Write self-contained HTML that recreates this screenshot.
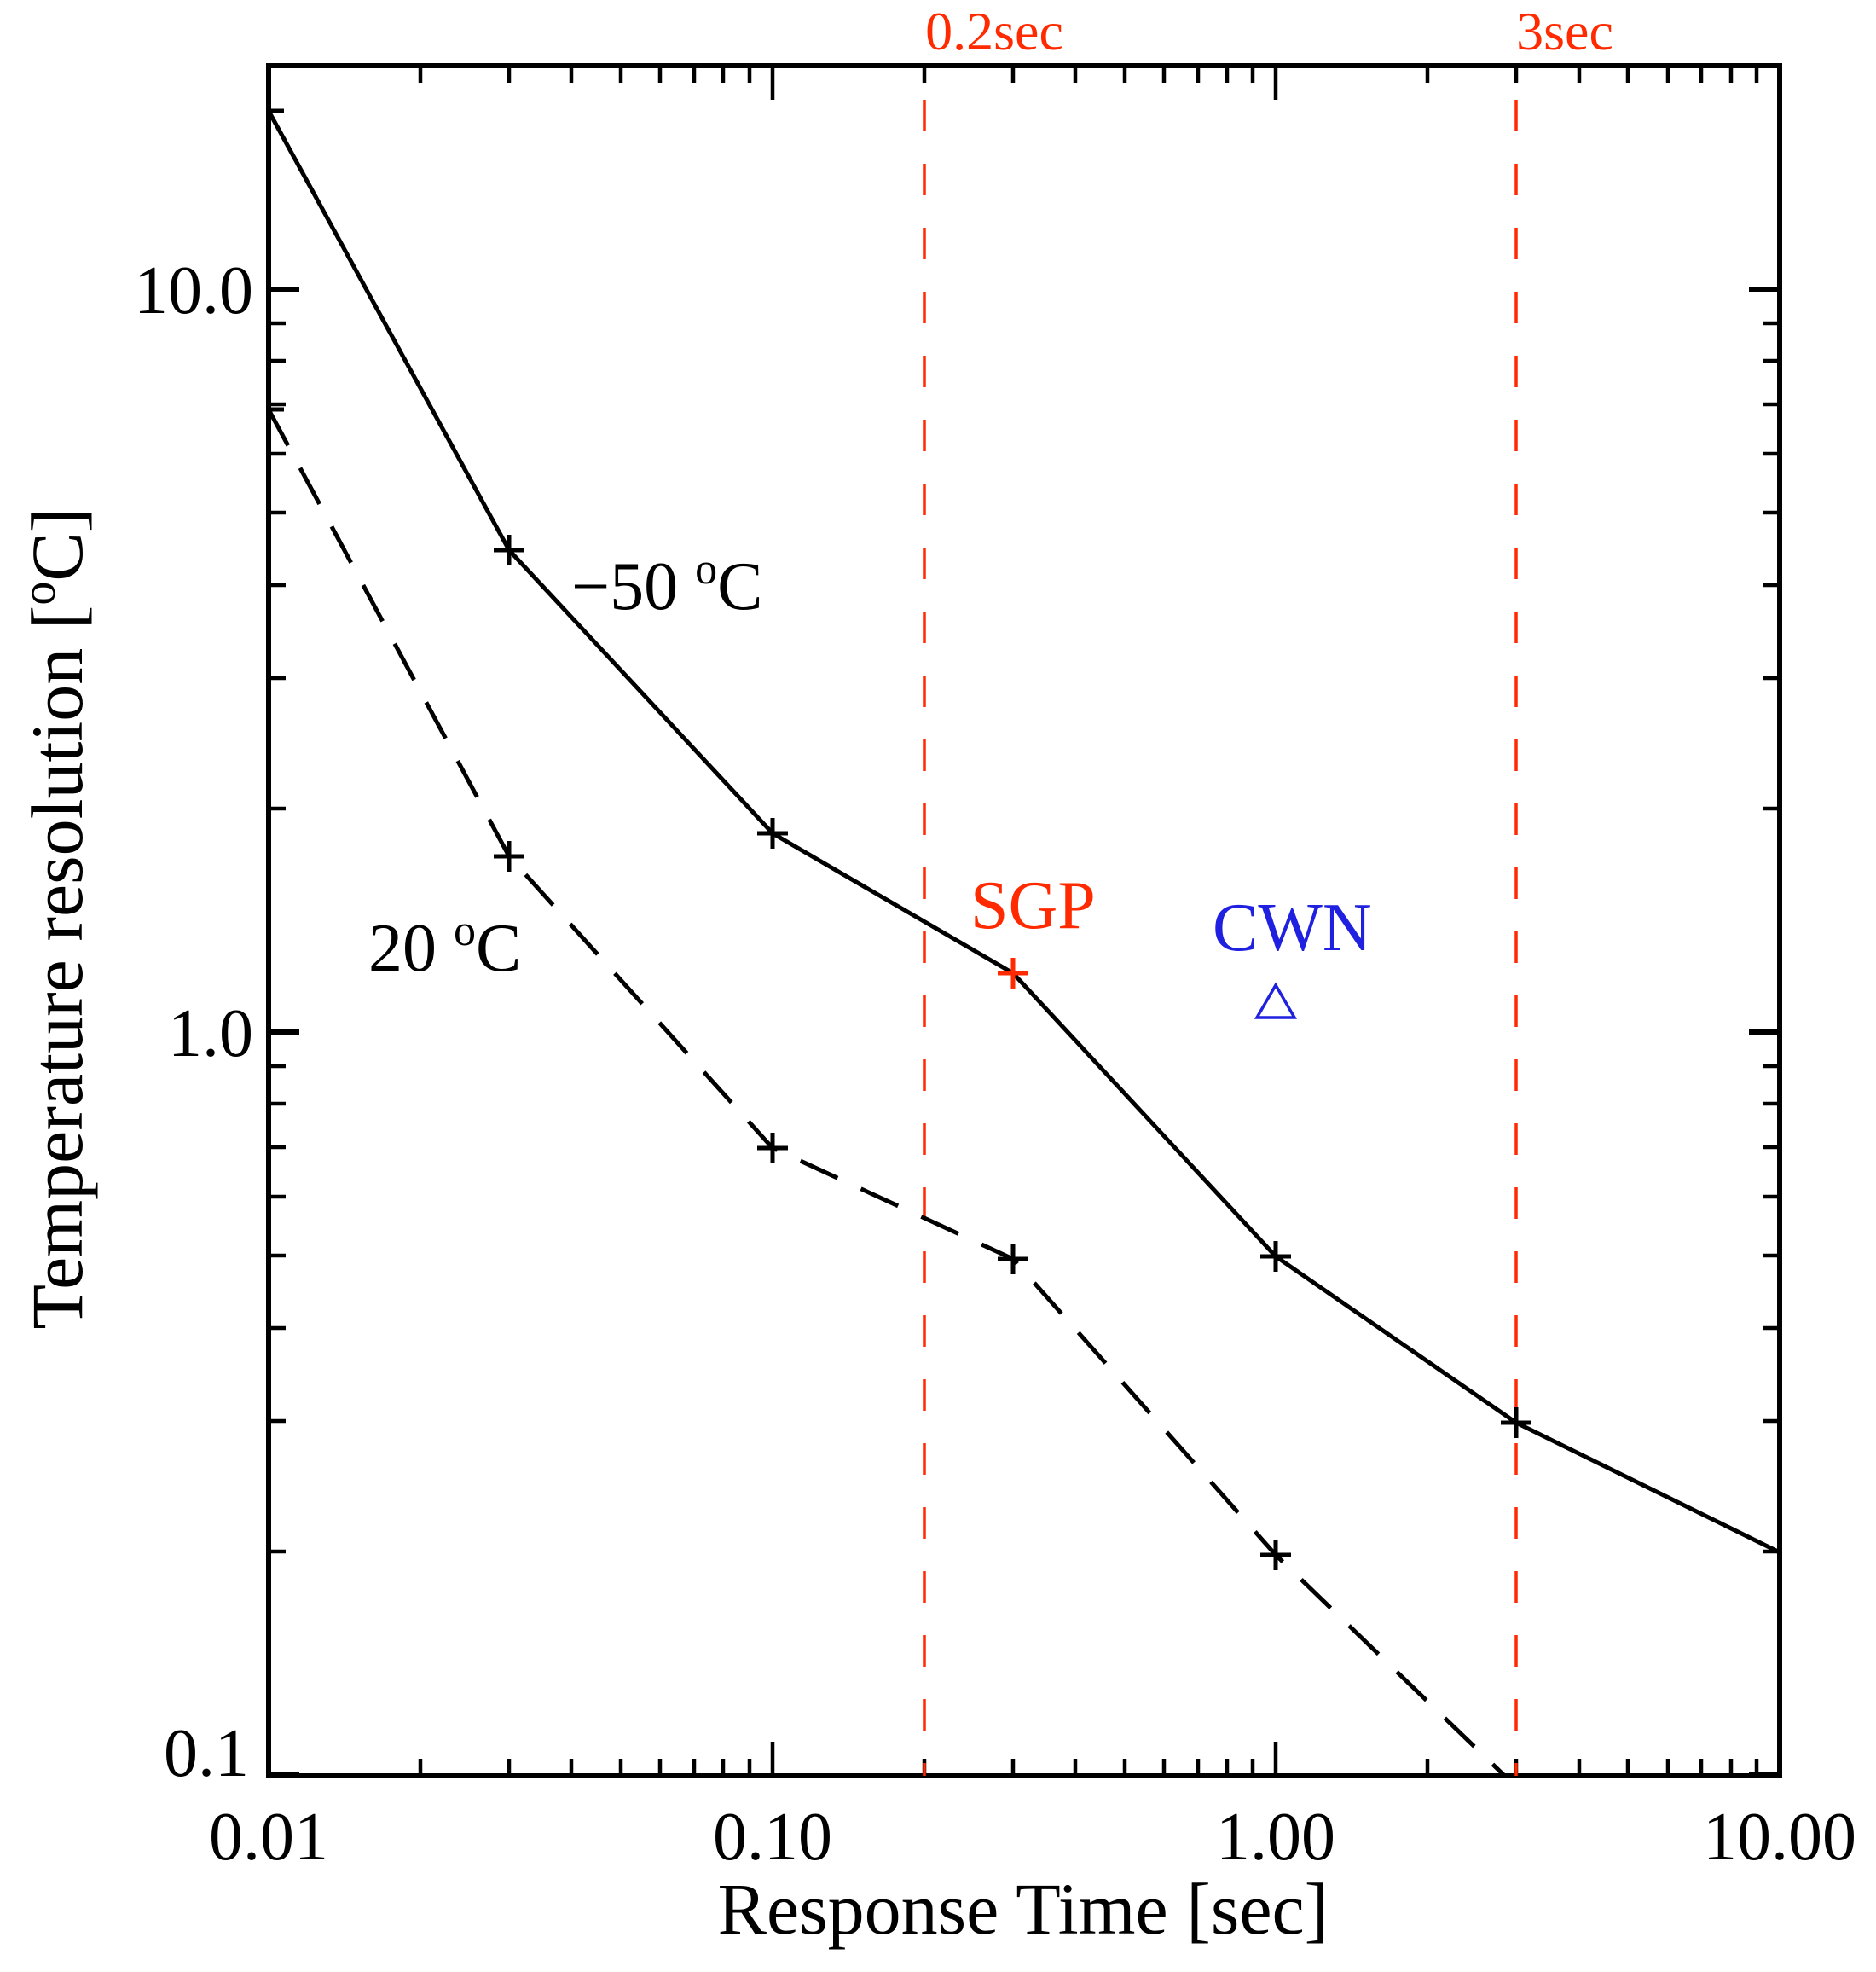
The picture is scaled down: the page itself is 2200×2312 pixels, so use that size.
<!DOCTYPE html>
<html><head><style>html,body{margin:0;padding:0;background:#fff}svg{display:block}</style></head>
<body>
<svg width="2200" height="2312" viewBox="0 0 2200 2312" xmlns="http://www.w3.org/2000/svg" font-family="Liberation Serif, serif">
<g stroke="#000" stroke-width="4.5">
<path d="M315 2082v-40M906 2082v-40M1496 2082v-40M2087 2082v-40"/>
<path d="M493 2082v-20M597 2082v-20M670 2082v-20M728 2082v-20M774 2082v-20M814 2082v-20M848 2082v-20M879 2082v-20"/>
<path d="M1084 2082v-20M1188 2082v-20M1261 2082v-20M1319 2082v-20M1365 2082v-20M1405 2082v-20M1439 2082v-20M1469 2082v-20"/>
<path d="M1674 2082v-20M1778 2082v-20M1852 2082v-20M1909 2082v-20M1956 2082v-20M1995 2082v-20M2030 2082v-20M2060 2082v-20"/>
<path d="M315 77v40M906 77v40M1496 77v40M2087 77v40"/>
<path d="M493 77v20M597 77v20M670 77v20M728 77v20M774 77v20M814 77v20M848 77v20M879 77v20"/>
<path d="M1084 77v20M1188 77v20M1261 77v20M1319 77v20M1365 77v20M1405 77v20M1439 77v20M1469 77v20"/>
<path d="M1674 77v20M1778 77v20M1852 77v20M1909 77v20M1956 77v20M1995 77v20M2030 77v20M2060 77v20"/>
<path d="M315 339h36M315 1210h36M315 2081h36M2087 339h-36M2087 1210h-36M2087 2081h-36" stroke-width="6"/>
<path d="M315 379h20M315 423h20M315 474h20M315 532h20M315 601h20M315 686h20M315 795h20M315 948h20
M315 1250h20M315 1294h20M315 1345h20M315 1403h20M315 1472h20M315 1557h20M315 1666h20M315 1819h20
M2087 379h-20M2087 423h-20M2087 474h-20M2087 532h-20M2087 601h-20M2087 686h-20M2087 795h-20M2087 948h-20
M2087 1250h-20M2087 1294h-20M2087 1345h-20M2087 1403h-20M2087 1472h-20M2087 1557h-20M2087 1666h-20M2087 1819h-20"/>
</g>
<rect x="315" y="77" width="1772" height="2005" fill="none" stroke="#000" stroke-width="6"/>
<path d="M1084 117V2082M1778 117V2082" stroke="#ff2a00" stroke-width="3.5" stroke-dasharray="37,38"/>
<polyline points="315,130 597,645 906,977 1188,1141 1496,1473 1778,1668 2087,1820" fill="none" stroke="#000" stroke-width="5"/>
<clipPath id="c"><rect x="315" y="77" width="1772" height="2005"/></clipPath>
<polyline clip-path="url(#c)" points="315,480 597,1004 906,1346 1188,1476 1496,1823 1778,2095" fill="none" stroke="#000" stroke-width="5" stroke-dasharray="48,30"/>
<g stroke="#000" stroke-width="5">
<path d="M315 130h18M597 627v36M579 645h36M906 959v36M888 977h36M1496 1455v36M1478 1473h36M1778 1650v36M1760 1668h36"/>
<path d="M315 480h18M597 986v36M579 1004h36M906 1328v36M888 1346h36M1188 1458v36M1170 1476h36M1496 1805v36M1478 1823h36"/>
</g>
<path d="M1188 1123v36M1170 1141h36" stroke="#ff2a00" stroke-width="5"/>
<path d="M1496 1155L1474 1193H1518Z" fill="none" stroke="#2020e0" stroke-width="3.5"/>
<g font-size="80" fill="#000">
<text x="670" y="714">−50 <tspan font-size="52" dy="-30">o</tspan><tspan dy="30">C</tspan></text>
<text x="432" y="1138">20 <tspan font-size="52" dy="-30">o</tspan><tspan dy="30">C</tspan></text>
<text x="1138" y="1088" fill="#ff2a00">SGP</text>
<text x="1422" y="1114" fill="#2020e0">CWN</text>
<text x="297" y="367" text-anchor="end">10.0</text>
<text x="297" y="1238" text-anchor="end">1.0</text>
<text x="292" y="2082" text-anchor="end">0.1</text>
<text x="315" y="2180" text-anchor="middle">0.01</text>
<text x="906" y="2180" text-anchor="middle">0.10</text>
<text x="1496" y="2180" text-anchor="middle">1.00</text>
<text x="2087" y="2180" text-anchor="middle">10.00</text>
<text x="1200" y="2267" text-anchor="middle" font-size="86">Response Time [sec]</text>
<text transform="translate(96,1077) rotate(-90)" text-anchor="middle" font-size="86">Temperature resolution [<tspan font-size="56" dy="-32">o</tspan><tspan dy="32">C]</tspan></text>
</g>
<g font-size="64" fill="#ff2a00" text-anchor="middle">
<text x="1166" y="58">0.2sec</text>
<text x="1835" y="58">3sec</text>
</g>
</svg>
</body></html>
